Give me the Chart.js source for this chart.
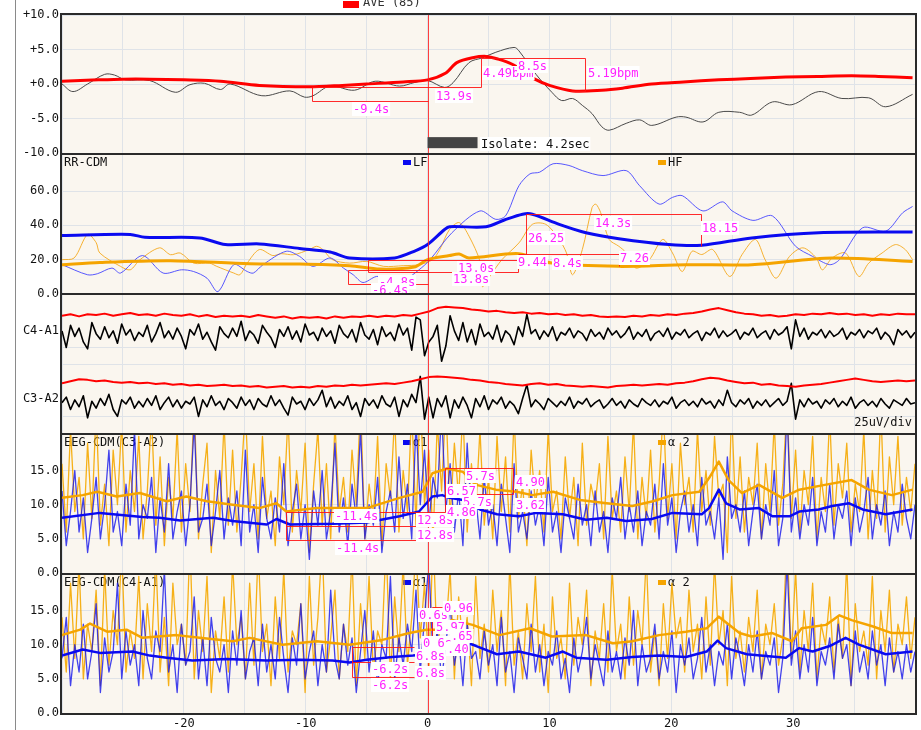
<!DOCTYPE html>
<html>
<head>
<meta charset="utf-8">
<title>HRV / EEG CDM</title>
<script src="https://cdn.jsdelivr.net/npm/chart.js@4.4.1/dist/chart.umd.min.js"></script>
<style>
  html, body { margin: 0; padding: 0; background: #fff; }
  #wrap { position: relative; width: 921px; height: 730px; overflow: hidden; }
  #wrap canvas { position: absolute; left: 0; top: 0; }
  #edge { position: absolute; left: 15px; top: 0; width: 1px; height: 730px; background: #8a8a8a; }
</style>
</head>
<body>
<div id="wrap">
  <div id="edge"></div>
  <canvas id="p1" width="921" height="730"></canvas>
  <canvas id="p2" width="921" height="730"></canvas>
  <canvas id="p3" width="921" height="730"></canvas>
  <canvas id="p4" width="921" height="730"></canvas>
  <canvas id="p5" width="921" height="730"></canvas>
</div>
<script>
// ---- time base ----
const T_START = -30, T_END = 40;
const DT = 0.35;       // dense traces
const DT_RED = 0.7;    // red EEG envelope traces

// ---- panel 1: heart rate (bpm change) ----
const aveT = [-30, -27, -25, -22.8, -20, -17, -13.8, -9.7, -7, -5, -2, 0, 1.5, 2.4, 3.7, 4.8, 5.8, 6.9, 8, 8.8, 10, 11.9, 14.3, 16, 18.4, 21, 23.9, 26.5, 29.4, 32, 34.8, 37, 39.8];
const aveV = [0.4, 0.6, 0.7, 0.7, 0.6, 0.4, -0.2, -0.4, -0.2, 0, 0.3, 0.6, 1.6, 3.1, 3.8, 4.0, 3.6, 2.9, 1.7, 0.7, -0.2, -1.0, -0.9, -0.6, 0, 0.3, 0.6, 0.8, 1.0, 1.1, 1.2, 1.1, 0.9];
const hrT = [-30, -29.1, -27.9, -26.5, -25.7, -24.8, -22.8, -20.7, -19.5, -18.3, -17, -16.2, -13.6, -11.3, -10.1, -9.4, -8, -6, -4.3, -2.3, -1.1, 0, 1.4, 2.1, 3.4, 4.5, 5.6, 7.1, 7.5, 8.9, 10.2, 11, 11.9, 12.7, 13.5, 14.3, 14.9, 16.3, 17.4, 18.4, 20.4, 21.2, 22.6, 23.9, 25.6, 26.6, 28.3, 29.9, 32.1, 34, 36.2, 37.6, 39.8];
const hrV = [0, -1.1, 0, 1.4, 1.3, 0.6, 0.5, -1.2, -0.1, 0.1, -0.8, 0, -1.7, -1.0, -1.9, -1.7, -0.3, -0.9, 0.4, -0.3, 0.2, 0.5, -0.5, 0.2, 3.1, 3.8, 4.6, 5.3, 4.8, 1.4, -1.2, -2.4, -2.1, -3.1, -4.3, -6.2, -6.7, -5.7, -5.2, -6.0, -4.8, -4.8, -5.5, -4.1, -4.1, -4.5, -2.6, -3.0, -1.1, -2.1, -2.0, -3.3, -1.5];
const hrTicks = [-10, -5, 0, 5, 10];

// ---- panel 2: RR-CDM (LF / HF) ----
const lfAvgT = [-30, -24.4, -23.2, -18.7, -16.6, -13.8, -10.5, -8, -6.4, -2.7, -1.1, 0, 1.4, 1.8, 4.8, 6.3, 7.8, 8.6, 10.8, 13, 15.7, 19.8, 22.5, 26.6, 32.1, 39.8];
const lfAvgV = [34.1, 34.7, 33.0, 32.7, 28.8, 29.2, 26.5, 24.5, 21, 21, 24.9, 28.8, 37.6, 39.2, 39.2, 43.1, 46.5, 46.5, 40.6, 35.7, 32.2, 28.8, 28.4, 32.7, 35.7, 36.1];
const hfAvgT = [-30, -26.9, -21.1, -14.6, -10.5, -6.4, -3.9, -1.1, 0, 1.8, 2.6, 3.4, 7.5, 10.2, 15.7, 21.2, 26.6, 33.2, 39.8];
const hfAvgV = [17.1, 18.4, 19.4, 17.6, 17.5, 16.5, 14.5, 15.7, 20, 22.4, 23.3, 21, 23.5, 18, 16.1, 17.1, 17.1, 21, 19];
const lfT = [-30, -27.9, -27.1, -25.9, -25.2, -23.4, -21.7, -20.2, -19.2, -18.1, -17.2, -15.9, -14.8, -14.3, -13.5, -11.6, -10.5, -9.4, -8, -6.9, -6.1, -5.3, -4.2, -3, -1.8, -0.7, 0.2, 2.0, 4.3, 5.6, 6.4, 7.5, 8.4, 9.2, 10.3, 11.6, 12.7, 14.4, 16.3, 17.4, 19.0, 20.1, 20.9, 22.6, 24.2, 25.0, 26.7, 28.3, 30.2, 31.6, 33.0, 33.8, 35.7, 37.6, 39.0, 39.8];
const lfV = [17.1, 11.2, 11.8, 15.1, 12.2, 22.4, 12.2, 14.1, 13.1, 9.2, 1.4, 17.1, 13.1, 12.2, 17.1, 24.9, 21.9, 16.1, 21, 15.1, 11.2, 6.7, 10.2, 9.5, 9, 14.1, 20, 35.7, 48.4, 43.5, 45.5, 63.1, 70, 71, 75.9, 74.9, 71.9, 69, 71.9, 63.1, 52.4, 56.3, 57.3, 48.4, 53.7, 48.4, 42.9, 45.5, 27.8, 21.9, 17.1, 20, 38.6, 36.6, 47.4, 51];
const hfT = [-30, -29, -27.9, -27.2, -26.9, -25.2, -24.4, -23.6, -22.0, -21.1, -20.3, -19.2, -17.9, -17.3, -15.9, -15.4, -14.8, -13.8, -12.7, -12.0, -11.0, -9.7, -9.1, -8.6, -7.8, -6.4, -5.0, -3.6, -2.0, -0.7, 0.4, 1.0, 1.8, 2.6, 3.4, 4.3, 4.5, 5.1, 6.1, 7.5, 8.6, 9.7, 10.8, 11.4, 11.9, 12.7, 13.5, 13.8, 14.2, 14.9, 15.7, 16.3, 17.1, 18.2, 19.3, 20.1, 20.9, 21.7, 22.5, 23.4, 24.8, 25.8, 26.9, 27.7, 28.6, 29.7, 30.8, 31.9, 32.4, 33.2, 34.3, 35.4, 36.2, 37.3, 38.4, 39.2, 39.8];
const hfV = [20, 21, 34.7, 30, 23.9, 16.1, 14.1, 20, 26.9, 22.9, 23.9, 18, 18, 16.1, 12.2, 11.2, 18, 25.9, 22.4, 23.5, 22.9, 25.9, 27.8, 25.9, 20, 18, 19, 16.1, 16.5, 17.1, 20, 25.9, 37.6, 41.6, 33.7, 19, 4.3, 10.2, 20, 29.8, 40.6, 40.6, 31.8, 23.9, 11.2, 25.9, 50.4, 52.4, 47.5, 31.8, 27.8, 24, 15.1, 20, 31.8, 23.9, 13.1, 24.9, 23, 25.9, 10.2, 22.9, 31.8, 20, 9.2, 21.9, 26.9, 21, 14.1, 21, 23.9, 10.2, 18, 23.9, 28.8, 25.9, 20];
const rrTicks = [0, 20, 40, 60];

// ---- panel 3: raw EEG (uV, stacked channels) ----
const eegC4 = [74,62,78,70,76,66,61,80,72,68, 77,69,74,65,79,71,75,67,73,70, 78,66,72,80,69,74,68,76,70,61, 75,71,79,68,73,66,60,77,72,69,
  76,70,81,67,74,71,65,78,73,69, 62,75,70,77,68,74,66,79,71,73, 67,76,70,74,65,78,72,69,75,66, 80,71,68,75,64,77,70,73,67,79,
  71,76,60,84,82,56,66,70,78,52, 63,85,74,67,80,66,75,64,79,70, 73,68,78,66,74,71,64,77,70,86, 72,75,68,74,70,77,67,73,71,76,
  69,74,72,67,75,70,73,68,76,71, 74,69,72,77,68,73,70,75,67,72, 74,70,76,68,73,71,75,69,72,74, 67,73,71,76,69,74,70,72,75,68,
  73,71,76,69,72,74,68,75,71,73, 77,61,82,70,76,68,73,71,75,69, 74,70,72,76,68,73,71,75,69,74, 72,76,68,73,70,64,75,71,74,69, 73];
const eegC3 = [22,26,17,24,19,27,11,23,18,25, 20,28,17,12,24,21,26,18,23,19, 25,20,27,17,22,26,19,24,18,23, 21,26,12,24,19,27,20,23,17,25,
  22,18,26,20,24,17,25,21,19,27, 20,24,18,13,26,21,23,17,25,20, 24,31,19,26,18,23,20,27,17,22, 12,25,20,24,18,27,21,19,26,12,
  24,19,28,22,41,10,26,11,25,19, 27,11,24,18,26,20,11,25,19,27, 17,24,21,26,18,23,20,14,25,35, 19,24,21,17,25,22,19,23,20,26,
  18,23,21,25,19,22,24,18,21,25, 20,23,18,24,21,19,25,22,20,24, 19,23,21,26,18,22,24,20,23,19, 25,21,23,18,24,20,31,22,19,24,
  21,25,18,23,20,24,19,22,25,20, 23,36,10,24,19,25,21,23,18,24, 21,25,19,23,20,26,18,22,24,20, 23,19,25,21,18,24,22,20,25,21, 22];
const eegC4Red = [85,86,84.5,86,85.5,86.5,85,86,87,85.5, 86,85,86.5,85.5,85,86,84.5,85.5,84,85, 84.5,85,84,85.5,84.5,83.5,84.5,83,84,83.5,
  84,83,84.5,83.5,84.5,84,85,84,85,84.5, 85.5,85,86.5,88,90.5,91.5,91,90.5,89.5,89, 88,88.5,87.5,87,87.5,86.5,87,86,86.5,85.5,
  86,85,85.5,84.5,84,84.5,84,85,84.5,85.5, 85,86,85.5,86.5,87,88,89.5,90.5,89,87.5, 86.5,86,85,85.5,84.5,85,86,85.5,86.5,86,
  87,86,86.5,85.5,86,85,86,85.5,86.5,86, 86];
const eegC3Red = [36,37.5,39,38.5,37.5,38,37,36.5,37,36, 36.5,35.5,36,35,35.5,34.5,35,34,34.5,35, 34,34.5,33.5,34,33,33.5,34,33,33.5,33,
  34,33.5,34.5,34,35,34.5,35,35.5,36,35.5, 36.5,37.5,39,40.5,41,40.5,40,39.5,38.5,38, 37,36.5,35.5,35,34.5,35.5,36,35,35.5,34.5,
  34,33.5,34,33.5,33,34,34.5,35,34.5,35, 35.5,35,36,36.5,37.5,39,40,39.5,38,37, 36,36.5,35,35.5,34.5,34,33.5,34.5,35,35.5,
  36.5,37.5,38.5,39.5,38.5,37.5,37,37.5,38,37.5, 38];
const eegTicks = [11.6, 24.6, 50, 62.3, 73.9];
const eegLabelAt = { 73.9: 'C4-A1', 24.6: 'C3-A2' };

// ---- panel 4: EEG-CDM (C3-A2) ----
const c3a2Alpha2 = [16,6,21,9,14,5,19,8,24,7, 13,4,18,10,22,6,15,9,20,5, 12,23,7,17,4,14,8,21,6,16, 9,25,5,13,19,3,15,8,22,7,
  18,6,14,24,9,16,5,20,8,12, 4,17,10,23,6,15,9,19,3,13, 21,7,16,5,22,9,14,6,18,10, 25,5,13,8,20,4,16,11,23,6,
  15,9,24,7,26,10,18,5,22,12, 25,8,19,11,24,6,16,9,21,7, 14,5,20,9,17,6,23,8,13,4, 18,10,15,6,21,9,12,5,17,8,
  14,4,19,7,13,10,16,5,20,8, 12,6,17,9,22,5,14,8,18,6, 13,24,8,16,5,19,10,14,6,21, 9,15,7,20,11,13,3,24,8,17,
  6,14,10,19,5,16,9,22,7,13, 25,8,18,6,15,10,20,5,14,9, 23,7,16,11,19,6,13,9,21,5, 15,8,24,6,17,10,20,7,14,9, 16];
const c3a2Alpha1 = [12,4,9,15,6,11,3,8,14,5, 10,18,6,9,4,13,7,21,5,10, 8,14,3,11,6,16,5,9,12,4, 10,22,6,8,13,4,9,15,5,11,
  7,12,4,18,6,10,3,14,8,5, 11,6,16,4,9,13,5,10,2,12, 7,15,5,9,19,6,11,4,13,8, 21,5,10,7,14,3,9,12,6,17,
  8,13,5,22,10,18,7,14,11,24, 9,16,6,12,4,19,8,11,5,14, 7,10,4,13,8,3,16,6,9,5, 12,7,10,4,14,6,9,3,11,8,
  5,13,7,10,4,12,6,9,3,11, 8,14,5,10,6,12,4,9,7,13, 5,16,7,11,3,9,12,6,10,4, 14,7,9,5,11,2,17,8,10,6,
  12,4,9,13,5,10,7,15,4,8, 24,6,11,5,10,7,14,4,9,6, 13,5,10,8,12,4,11,6,9,14, 5,10,7,12,4,9,6,13,8,5, 10];
const c3a2A2AvgT = [-30, -28.3, -27.1, -25.5, -23.6, -21.4, -19.8, -18.1, -16, -13.8, -12.4, -11.6, -9.1, -5, -2.3, -0.4, 0.4, 1.6, 2.9, 4.0, 5.6, 7.3, 8.6, 10.3, 12.5, 14.7, 16.8, 18.5, 20.1, 22.3, 23.1, 23.9, 24.7, 25.8, 27.2, 29.1, 30.5, 32.6, 34.8, 36.2, 38.1, 39.8];
const c3a2A2AvgV = [11.0, 11.4, 11.9, 11.2, 11.7, 10.5, 11.2, 10.5, 10.0, 9.5, 10.2, 9.0, 9.5, 9.5, 11.0, 11.9, 14.6, 15.3, 14.8, 12.9, 12.2, 11.9, 11.4, 11.9, 10.7, 10.2, 9.8, 10.5, 11.4, 11.9, 13.9, 16.3, 13.6, 11.7, 12.9, 11.0, 12.2, 12.9, 13.6, 12.2, 11.4, 12.2];
const c3a2A1AvgT = [-30, -26.9, -23.4, -22.0, -20.3, -17.6, -16.0, -13.2, -12.4, -11.3, -7.8, -5.0, -2.3, -0.7, 0.4, 1.2, 1.8, 2.9, 4.3, 5.7, 7.5, 8.9, 11.1, 13.0, 14.7, 16.3, 18.4, 20.1, 22.5, 23.1, 23.9, 24.5, 25.6, 27.2, 28.3, 29.7, 30.5, 32.1, 33.2, 34.6, 35.7, 37.6, 39.8];
const c3a2A1AvgV = [8.1, 8.8, 8.2, 8.1, 7.7, 8.1, 7.6, 7.1, 7.9, 7.1, 7.2, 7.4, 8.3, 9.0, 11.2, 11.4, 11.0, 10.7, 9.3, 8.6, 8.3, 8.8, 8.6, 7.8, 8.1, 7.6, 7.9, 8.8, 8.6, 9.5, 12.2, 10.2, 9.3, 9.5, 8.3, 8.3, 9.0, 9.3, 9.8, 10.2, 9.3, 8.6, 9.3];

// ---- panel 5: EEG-CDM (C4-A1) ----
const c4a1Alpha2 = [14,6,19,8,22,5,13,9,18,4, 21,7,15,10,24,6,12,8,20,5, 16,9,23,6,14,4,19,10,13,7, 25,5,15,9,20,3,12,8,17,6,
  22,10,14,5,19,7,24,9,13,4, 17,8,21,6,12,10,16,3,20,7, 14,25,6,11,18,5,13,9,23,4, 16,8,20,6,12,10,25,5,17,9,
  22,7,14,24,11,19,6,26,9,15, 12,21,5,17,10,14,4,20,8,13, 6,18,9,15,4,22,7,12,5,16, 9,20,6,13,3,17,8,11,5,19,
  7,14,10,18,4,12,8,16,6,21, 9,13,5,17,7,15,10,23,6,12, 4,16,8,19,11,14,6,18,9,13, 5,17,7,22,10,15,4,20,8,12,
  6,14,9,18,5,13,10,16,7,11, 26,8,21,6,15,9,19,5,13,10, 17,6,14,8,22,4,16,9,12,7, 20,5,15,9,18,6,13,10,17,8, 14];
const c4a1Alpha1 = [8,14,4,10,6,13,5,9,16,3, 11,6,9,19,5,12,7,10,4,15, 8,5,12,9,21,6,10,3,13,7, 9,17,5,11,4,14,8,6,10,3,
  12,7,15,5,9,11,4,13,6,10, 5,14,8,3,11,7,16,5,9,12, 4,10,6,18,8,5,13,7,11,3, 9,15,6,12,4,10,8,20,5,11,
  7,13,9,18,6,14,22,8,12,5, 10,16,7,11,4,13,8,9,5,12, 7,10,4,14,6,9,3,11,8,5, 13,6,10,4,9,7,12,5,8,3,
  11,6,9,14,5,10,7,4,12,6, 9,5,11,7,15,4,10,6,8,13, 5,9,6,12,3,10,7,11,5,8, 14,6,10,4,9,7,13,5,11,8,
  4,10,6,12,5,9,7,11,3,8, 22,7,12,5,10,6,14,4,9,7, 11,5,13,8,10,4,12,6,9,5, 12,7,10,4,11,6,9,5,10,6, 9];
const c4a1A2AvgT = [-30, -28.5, -27.7, -26.3, -24.7, -23.4, -20.6, -18.7, -16.0, -14.6, -11.9, -9.1, -6.4, -3.7, -1.5, -0.1, 0.7, 2.0, 3.7, 5.9, 8.4, 10.2, 13.0, 15.2, 16.8, 19.0, 21.2, 22.9, 23.9, 25.6, 26.6, 28.3, 29.9, 30.7, 32.7, 33.8, 34.8, 36.5, 38.1, 39.8];
const c4a1A2AvgV = [11.4, 12.2, 13.1, 11.9, 12.2, 11.0, 11.4, 11.0, 10.5, 11.0, 10.0, 10.5, 10.0, 10.7, 11.7, 12.2, 12.2, 13.6, 12.9, 11.4, 12.4, 11.2, 11.4, 10.2, 10.5, 11.4, 11.9, 12.4, 14.1, 11.7, 11.2, 11.7, 10.5, 12.4, 12.9, 14.3, 13.6, 12.7, 11.7, 11.7];
const c4a1A1AvgT = [-30, -28.3, -26.9, -24.2, -22.8, -21.4, -19.3, -16.5, -13.2, -10.5, -7.8, -6.4, -5.0, -2.9, -1.2, 0, 1.0, 2.0, 2.9, 4.0, 5.7, 7.5, 9.7, 11.1, 12.2, 14.7, 16.8, 19.0, 21.2, 22.9, 23.8, 24.5, 26.2, 28.0, 29.4, 30.5, 31.6, 33.0, 34.3, 35.4, 37.6, 39.8];
const c4a1A1AvgV = [8.4, 9.3, 8.8, 9.0, 8.4, 8.1, 7.7, 7.9, 7.7, 7.8, 7.7, 7.4, 7.8, 8.2, 8.4, 8.6, 9.8, 10.3, 10.5, 9.8, 8.6, 9.0, 8.1, 9.0, 8.1, 7.8, 8.2, 8.4, 8.2, 9.0, 10.6, 9.5, 8.6, 8.3, 8.1, 9.5, 9.0, 9.8, 11.0, 10.0, 8.6, 9.0];
const cdmTicks = [0, 5, 10, 15];

// ---- annotations (data units: seconds, panel value) ----
const hrPaths = [
  [[-9.5, -0.47], [4.4, -0.47], [4.4, 3.8]],
  [[-9.5, -0.47], [-9.5, -2.4], [0, -2.4]],
  [[4.4, 3.8], [12.95, 3.8], [12.95, -0.95], [11.8, -0.95]]
];
const hrLabels = [[-4.6, -3.6, '-9.4s'], [2.2, -1.7, '13.9s'], [6.6, 1.55, '4.49bpm'], [8.6, 2.6, '8.5s'], [15.2, 1.55, '5.19bpm']];
const isolateBlock = [0, -7.7, 4.1, -9.3];
const isolateText = 'Isolate: 4.2sec';

const rrPaths = [
  [[-4.9, 20], [7.4, 20], [7.4, 13.1], [-4.9, 13.1], [-4.9, 20]],
  [[0, 13.7], [-6.5, 13.7], [-6.5, 5.7], [0, 5.7]],
  [[8.1, 23.5], [8.1, 46.5], [22.4, 46.5], [22.4, 27.8]],
  [[7.4, 23.5], [15.7, 23.5], [15.7, 16.1]]
];
const rrLabels = [[-2.5, 7.1, '-4.8s'], [-3.1, 2.2, '-6.4s'], [4.0, 15.3, '13.0s'], [3.6, 8.8, '13.8s'], [8.6, 18.8, '9.44'],
  [11.5, 18.2, '8.4s'], [17.0, 21.2, '7.26'], [9.75, 32.9, '26.25'], [15.25, 41.2, '14.3s'], [24.0, 38.2, '18.15']];

const c3a2Paths = [
  [[-11.6, 9.0], [1.4, 9.0], [1.4, 15.4], [7.0, 15.4], [7.0, 11.6], [4.0, 11.6]],
  [[-11.6, 9.0], [-11.6, 4.9], [-0.9, 4.9]],
  [[-11.6, 6.9], [-0.9, 6.9]]
];
const c3a2Labels = [[-5.8, 8.3, '-11.4s'], [-5.7, 3.6, '-11.4s'], [0.65, 7.8, '12.8s'], [0.65, 5.5, '12.8s'], [4.35, 14.2, '5.7s'],
  [2.8, 12.0, '6.57'], [8.45, 13.3, '4.90'], [4.1, 10.4, '5.7s'], [2.8, 9.0, '4.86'], [8.45, 10.0, '3.62']];

const c4a1Paths = [
  [[-6.2, 9.6], [-1.1, 9.6]],
  [[-6.2, 9.6], [-6.2, 5.2], [-1.1, 5.2]],
  [[-6.2, 7.5], [-1.1, 7.5]],
  [[0.4, 15.5], [1.2, 15.5]],
  [[0.4, 15.5], [0.4, 11.0], [1.2, 11.0]]
];
const c4a1Labels = [[-3.1, 6.4, '-6.2s'], [-3.1, 4.1, '-6.2s'], [0.25, 8.3, '6.8s'], [0.25, 5.9, '6.8s'], [0.5, 14.3, '0.6s'],
  [2.5, 15.4, '0.96'], [1.9, 12.6, '5.97'], [2.8, 11.2, '.65'], [0.8, 10.3, '0 6s'], [2.5, 9.4, '.40']];

// ---- styling ----
const PLOT_BG = '#faf6ef';
const GRID = '#dfe3e8';
const MAGENTA = '#ff22ff';
const RED = '#ff0000';
const BLUE = '#0a0af0';
const ORANGE = '#f5a400';
const FONT = '12px "DejaVu Sans Mono", monospace';
const MONO = { family: '"DejaVu Sans Mono", monospace', size: 12 };

const pairs = (ts, vs) => ts.map((t, i) => ({ x: t, y: vs[i] }));
const sampled = (vs, step) => vs.map((v, i) => ({ x: T_START + i * step, y: v }));

const panelPlugin = {
  id: 'panel',
  beforeDraw(chart, args, o) {
    const { ctx, chartArea: a } = chart;
    ctx.save();
    ctx.fillStyle = PLOT_BG;
    ctx.fillRect(a.left, a.top, a.right - a.left, a.bottom - a.top);
    ctx.restore();
  },
  beforeDatasetsDraw(chart, args, o) {
    const { ctx, chartArea: a } = chart;
    ctx.save();
    ctx.font = FONT;
    ctx.textBaseline = 'middle';
    ctx.textAlign = 'left';
    if (o.title) {
      ctx.fillStyle = '#111';
      ctx.fillText(o.title, a.left + 2, a.top + 8);
    }
    (o.legend || []).forEach(it => {
      ctx.fillStyle = it.color;
      ctx.fillRect(it.x, a.top + 5, 8, 5);
      ctx.fillStyle = '#111';
      ctx.fillText(it.text, it.x + 10, a.top + 8);
    });
    ctx.restore();
  },
  afterDatasetsDraw(chart, args, o) {
    const { ctx, chartArea: a, scales: { x, y } } = chart;
    ctx.save();
    // event marker at t = 0
    const x0 = Math.round(x.getPixelForValue(0)) + 0.5;
    ctx.strokeStyle = 'rgba(255,30,30,0.85)';
    ctx.lineWidth = 1;
    ctx.beginPath(); ctx.moveTo(x0, a.top); ctx.lineTo(x0, a.bottom); ctx.stroke();

    if (o.block) {
      const [bx0, by0, bx1, by1] = o.block;
      const px0 = x.getPixelForValue(bx0), px1 = x.getPixelForValue(bx1);
      const py0 = y.getPixelForValue(by0), py1 = y.getPixelForValue(by1);
      ctx.fillStyle = '#444';
      ctx.fillRect(px0, py0, px1 - px0, py1 - py0);
    }

    ctx.strokeStyle = 'rgba(255,20,20,0.9)';
    ctx.lineWidth = 1;
    (o.paths || []).forEach(p => {
      ctx.beginPath();
      p.forEach(([vx, vy], i) => {
        const X = Math.round(x.getPixelForValue(vx)) + 0.5;
        const Y = Math.round(y.getPixelForValue(vy)) + 0.5;
        if (i) ctx.lineTo(X, Y); else ctx.moveTo(X, Y);
      });
      ctx.stroke();
    });

    ctx.font = FONT;
    ctx.textBaseline = 'middle';
    ctx.textAlign = 'left';
    (o.labels || []).forEach(([lx, ly, txt, col, align]) => {
      const X = x.getPixelForValue(lx), Y = Math.round(y.getPixelForValue(ly));
      const w = ctx.measureText(txt).width;
      const left = Math.round(align === 'left' ? X : X - w / 2);
      ctx.fillStyle = '#fff';
      ctx.fillRect(left - 1, Y - 7, w + 2, 14);
      ctx.fillStyle = col || MAGENTA;
      ctx.fillText(txt, left, Y + 1);
    });

    if (o.note) {
      ctx.fillStyle = '#111';
      ctx.textAlign = 'right';
      ctx.fillText(o.note, a.right - 3, a.bottom - 10);
    }

    ctx.strokeStyle = '#2a2a2a';
    ctx.lineWidth = 2;
    ctx.strokeRect(a.left - 1, a.top - 1, a.right - a.left + 2, a.bottom - a.top + 2);

    if (o.topLegend) {
      const t = o.topLegend;
      ctx.fillStyle = t.color;
      ctx.fillRect(343, 1, 16, 7);
      ctx.fillStyle = '#333';
      ctx.textAlign = 'left';
      ctx.fillText(t.text, 363, 3);
    }
    ctx.restore();
  }
};

function makePanel(id, top, bottom, yOpts, datasets, panel, showX) {
  const xH = showX ? 17 : 0;
  return new Chart(document.getElementById(id), {
    type: 'line',
    data: { datasets },
    options: {
      responsive: false,
      animation: false,
      devicePixelRatio: 1,
      events: [],
      layout: { padding: { top, bottom: 730 - bottom - xH, left: 0, right: 6 } },
      elements: { point: { radius: 0 }, line: { tension: 0, borderJoinStyle: 'round' } },
      plugins: { legend: { display: false }, tooltip: { enabled: false }, panel },
      scales: {
        x: {
          type: 'linear', min: T_START, max: T_END,
          border: { display: false },
          grid: { color: GRID, drawTicks: false },
          ticks: {
            display: showX, stepSize: 5, padding: 4, autoSkip: false, maxRotation: 0,
            color: '#111', font: MONO,
            callback: v => (v % 10 === 0 && v > T_START && v < T_END) ? String(v) : ''
          },
          afterFit: s => { s.height = xH; }
        },
        y: Object.assign({
          type: 'linear', position: 'left',
          border: { display: false },
          afterFit: s => { s.width = 62; }
        }, yOpts)
      }
    },
    plugins: [panelPlugin]
  });
}

const line = (data, color, width, extra) => Object.assign({ data, borderColor: color, borderWidth: width, pointRadius: 0, fill: false }, extra || {});
const yTicks = (vals, fmt) => ({
  afterBuildTicks: s => { s.ticks = vals.map(v => ({ value: v })); },
  ticks: { padding: 3, color: '#111', font: MONO, callback: fmt }
});

// panel 1
makePanel('p1', 15, 153, Object.assign({
  min: -10, max: 10,
  grid: { color: GRID, drawTicks: false }
}, yTicks(hrTicks, v => (v >= 0 ? '+' : '') + v.toFixed(1))), [
  line(pairs(aveT, aveV), RED, 3, { label: 'AVE (85)', tension: 0.3 }),
  line(pairs(hrT, hrV), '#4a4a4a', 1, { tension: 0.35 })
], { topLegend: { color: RED, text: 'AVE (85)' }, paths: hrPaths, block: isolateBlock,
     labels: hrLabels.concat([[isolateBlock[2] + 0.25, -8.65, isolateText, '#111', 'left']]) }, false);

// panel 2
makePanel('p2', 155, 294, Object.assign({
  min: 0, max: 81,
  grid: { color: GRID, drawTicks: false }
}, yTicks(rrTicks, v => v.toFixed(1))), [
  line(pairs(lfAvgT, lfAvgV), BLUE, 3, { label: 'LF', tension: 0.3 }),
  line(pairs(hfAvgT, hfAvgV), ORANGE, 3, { label: 'HF', tension: 0.3 }),
  line(pairs(lfT, lfV), 'rgba(70,70,255,0.9)', 1, { tension: 0.3 }),
  line(pairs(hfT, hfV), 'rgba(245,170,30,0.9)', 1, { tension: 0.3 })
], { title: 'RR-CDM', legend: [{ x: 403, text: 'LF', color: BLUE }, { x: 658, text: 'HF', color: ORANGE }],
     paths: rrPaths, labels: rrLabels }, false);

// panel 3
makePanel('p3', 295, 433, Object.assign({
  min: 0, max: 100,
  grid: { color: ctx => eegLabelAt[ctx.tick && ctx.tick.value] ? 'rgba(0,0,0,0)' : GRID, drawTicks: false }
}, yTicks(eegTicks, v => eegLabelAt[v] || '')), [
  line(sampled(eegC4Red, DT_RED), RED, 2),
  line(sampled(eegC3Red, DT_RED), RED, 2),
  line(sampled(eegC4, DT), '#000', 1.6),
  line(sampled(eegC3, DT), '#000', 1.6)
], { note: '25uV/div' }, false);

// panel 4
makePanel('p4', 435, 573, Object.assign({
  min: 0, max: 20.2,
  grid: { color: GRID, drawTicks: false }
}, yTicks(cdmTicks, v => v.toFixed(1))), [
  line(pairs(c3a2A1AvgT, c3a2A1AvgV), BLUE, 2.5, { label: 'α1' }),
  line(pairs(c3a2A2AvgT, c3a2A2AvgV), ORANGE, 2.5, { label: 'α2' }),
  line(sampled(c3a2Alpha1, DT), 'rgba(20,20,235,0.8)', 1.3),
  line(sampled(c3a2Alpha2, DT), 'rgba(245,168,0,0.9)', 1.3)
], { title: 'EEG-CDM(C3-A2)', legend: [{ x: 403, text: 'α1', color: BLUE }, { x: 658, text: 'α 2', color: ORANGE }],
     paths: c3a2Paths, labels: c3a2Labels }, false);

// panel 5
makePanel('p5', 575, 713, Object.assign({
  min: 0, max: 20.2,
  grid: { color: GRID, drawTicks: false }
}, yTicks(cdmTicks, v => v.toFixed(1))), [
  line(pairs(c4a1A1AvgT, c4a1A1AvgV), BLUE, 2.5, { label: 'α1' }),
  line(pairs(c4a1A2AvgT, c4a1A2AvgV), ORANGE, 2.5, { label: 'α2' }),
  line(sampled(c4a1Alpha1, DT), 'rgba(20,20,235,0.8)', 1.3),
  line(sampled(c4a1Alpha2, DT), 'rgba(245,168,0,0.9)', 1.3)
], { title: 'EEG-CDM(C4-A1)', legend: [{ x: 403, text: 'α1', color: BLUE }, { x: 658, text: 'α 2', color: ORANGE }],
     paths: c4a1Paths, labels: c4a1Labels }, true);
</script>
</body>
</html>
